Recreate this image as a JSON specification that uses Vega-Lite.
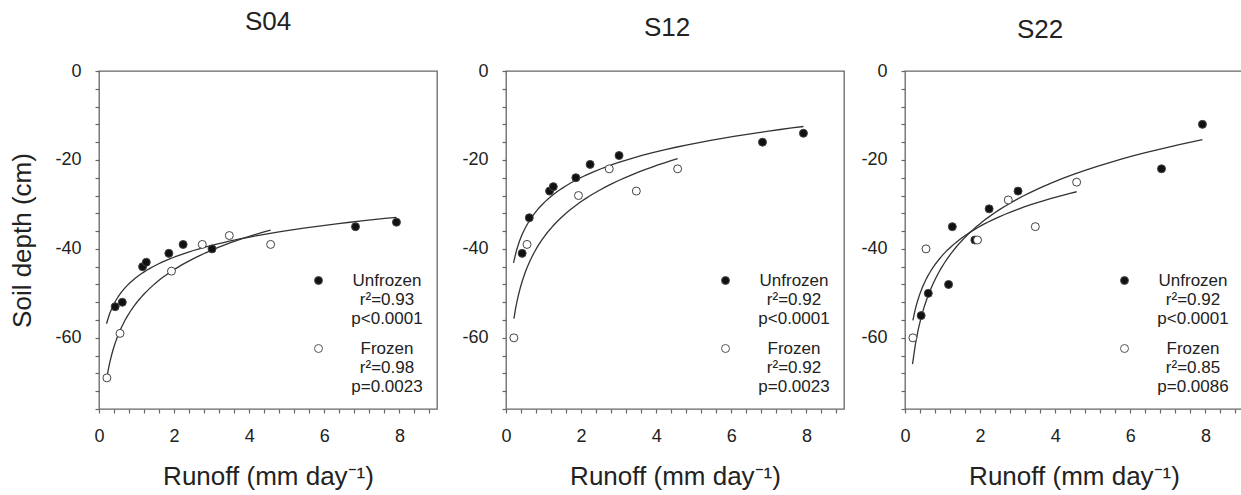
{
  "$schema": "https://vega.github.io/schema/vega-lite/v6.json",
  "background": "white",
  "padding": {"left": 9, "top": 8, "right": 0, "bottom": 0},
  "config": {
    "font": "Liberation Sans",
    "view": {"stroke": "#666", "strokeWidth": 1.3},
    "axis": {
      "domain": false, "grid": false, "tickColor": "#666", "tickSize": 4, "tickWidth": 1.2,
      "labelFontSize": 18, "labelColor": "#222", "labelOverlap": false, "labelFlush": false,
      "titleFontSize": 26, "titleFontWeight": "normal", "titleColor": "#222"
    },
    "axisX": {"labelPadding": 14, "titlePadding": 18},
    "axisY": {"labelPadding": 14, "titlePadding": 19},
    "title": {"fontSize": 26, "fontWeight": "normal", "color": "#222", "anchor": "middle", "frame": "group"},
    "legend": {
      "orient": "bottom-right", "offset": 14, "title": null,
      "labelFontSize": 17, "labelColor": "#222", "labelAlign": "center", "labelBaseline": "middle",
      "labelOffset": 60, "labelLimit": 300, "symbolType": "circle", "symbolSize": 64,
      "symbolStrokeColor": "#555", "symbolStrokeWidth": 1, "rowPadding": 12
    }
  },
  "data": {"values": [
    {"site": "S04", "condition": "Unfrozen", "runoff": 0.43, "depth": -53},
    {"site": "S04", "condition": "Unfrozen", "runoff": 0.62, "depth": -52},
    {"site": "S04", "condition": "Unfrozen", "runoff": 1.16, "depth": -44},
    {"site": "S04", "condition": "Unfrozen", "runoff": 1.26, "depth": -43},
    {"site": "S04", "condition": "Unfrozen", "runoff": 1.86, "depth": -41},
    {"site": "S04", "condition": "Unfrozen", "runoff": 2.24, "depth": -39},
    {"site": "S04", "condition": "Unfrozen", "runoff": 3.01, "depth": -40},
    {"site": "S04", "condition": "Unfrozen", "runoff": 6.83, "depth": -35},
    {"site": "S04", "condition": "Unfrozen", "runoff": 7.92, "depth": -34},
    {"site": "S04", "condition": "Frozen", "runoff": 0.21, "depth": -69},
    {"site": "S04", "condition": "Frozen", "runoff": 0.56, "depth": -59},
    {"site": "S04", "condition": "Frozen", "runoff": 1.93, "depth": -45},
    {"site": "S04", "condition": "Frozen", "runoff": 2.75, "depth": -39},
    {"site": "S04", "condition": "Frozen", "runoff": 3.47, "depth": -37},
    {"site": "S04", "condition": "Frozen", "runoff": 4.57, "depth": -39},
    {"site": "S12", "condition": "Unfrozen", "runoff": 0.43, "depth": -41},
    {"site": "S12", "condition": "Unfrozen", "runoff": 0.62, "depth": -33},
    {"site": "S12", "condition": "Unfrozen", "runoff": 1.16, "depth": -27},
    {"site": "S12", "condition": "Unfrozen", "runoff": 1.26, "depth": -26},
    {"site": "S12", "condition": "Unfrozen", "runoff": 1.86, "depth": -24},
    {"site": "S12", "condition": "Unfrozen", "runoff": 2.24, "depth": -21},
    {"site": "S12", "condition": "Unfrozen", "runoff": 3.01, "depth": -19},
    {"site": "S12", "condition": "Unfrozen", "runoff": 6.83, "depth": -16},
    {"site": "S12", "condition": "Unfrozen", "runoff": 7.92, "depth": -14},
    {"site": "S12", "condition": "Frozen", "runoff": 0.21, "depth": -60},
    {"site": "S12", "condition": "Frozen", "runoff": 0.56, "depth": -39},
    {"site": "S12", "condition": "Frozen", "runoff": 1.93, "depth": -28},
    {"site": "S12", "condition": "Frozen", "runoff": 2.75, "depth": -22},
    {"site": "S12", "condition": "Frozen", "runoff": 3.47, "depth": -27},
    {"site": "S12", "condition": "Frozen", "runoff": 4.57, "depth": -22},
    {"site": "S22", "condition": "Unfrozen", "runoff": 0.43, "depth": -55},
    {"site": "S22", "condition": "Unfrozen", "runoff": 0.62, "depth": -50},
    {"site": "S22", "condition": "Unfrozen", "runoff": 1.16, "depth": -48},
    {"site": "S22", "condition": "Unfrozen", "runoff": 1.26, "depth": -35},
    {"site": "S22", "condition": "Unfrozen", "runoff": 1.86, "depth": -38},
    {"site": "S22", "condition": "Unfrozen", "runoff": 2.24, "depth": -31},
    {"site": "S22", "condition": "Unfrozen", "runoff": 3.01, "depth": -27},
    {"site": "S22", "condition": "Unfrozen", "runoff": 6.83, "depth": -22},
    {"site": "S22", "condition": "Unfrozen", "runoff": 7.92, "depth": -12},
    {"site": "S22", "condition": "Frozen", "runoff": 0.21, "depth": -60},
    {"site": "S22", "condition": "Frozen", "runoff": 0.56, "depth": -40},
    {"site": "S22", "condition": "Frozen", "runoff": 1.93, "depth": -38},
    {"site": "S22", "condition": "Frozen", "runoff": 2.75, "depth": -29},
    {"site": "S22", "condition": "Frozen", "runoff": 3.47, "depth": -35},
    {"site": "S22", "condition": "Frozen", "runoff": 4.57, "depth": -25}
  ]},
  "spacing": 15,
  "resolve": {"scale": {"fill": "independent"}, "legend": {"fill": "independent"}},
  "hconcat": [
    {
      "title": {"text": "S04", "offset": 27},
      "width": 338, "height": 338,
      "transform": [{"filter": "datum.site === 'S04'"}],
      "layer": [
        {"transform": [{"filter": "datum.condition === 'Unfrozen'"}, {"regression": "depth", "on": "runoff", "method": "log", "extent": [0.2, 7.92]}],
         "mark": {"type": "line", "color": "#333", "strokeWidth": 1.3},
         "encoding": {"x": {"field": "runoff", "type": "quantitative"}, "y": {"field": "depth", "type": "quantitative"}}},
        {"transform": [{"filter": "datum.condition === 'Frozen'"}, {"regression": "depth", "on": "runoff", "method": "log"}],
         "mark": {"type": "line", "color": "#333", "strokeWidth": 1.3},
         "encoding": {"x": {"field": "runoff", "type": "quantitative"}, "y": {"field": "depth", "type": "quantitative"}}},
        {"mark": {"type": "point", "filled": true, "size": 64, "stroke": "#444", "strokeWidth": 1, "opacity": 1},
         "encoding": {
           "x": {"field": "runoff", "type": "quantitative", "scale": {"domain": [0, 9], "nice": false, "zero": false},
                 "axis": {"title": "Runoff (mm day⁻¹)", "tickCount": 100, "values": [0,0.4,0.8,1.2,1.6,2,2.4,2.8,3.2,3.6,4,4.4,4.8,5.2,5.6,6,6.4,6.8,7.2,7.6,8,8.4,8.8], "labelExpr": "datum.value % 2 === 0 ? '' + datum.value : ''"}},
           "y": {"field": "depth", "type": "quantitative", "scale": {"domain": [-76, 0], "nice": false, "zero": false},
                 "axis": {"title": "Soil depth (cm)", "tickCount": 100, "values": [0,-4,-8,-12,-16,-20,-24,-28,-32,-36,-40,-44,-48,-52,-56,-60,-64,-68,-72,-76], "labelExpr": "datum.value % 20 === 0 ? '' + datum.value : ''"}},
           "fill": {"field": "condition", "type": "nominal", "scale": {"domain": ["Unfrozen", "Frozen"], "range": ["#111111", "#ffffff"]},
                    "legend": {"labelExpr": "datum.label === 'Unfrozen' ? ['Unfrozen', 'r²=0.93', 'p<0.0001'] : ['Frozen', 'r²=0.98', 'p=0.0023']"}}
         }}
      ]
    },
    {
      "title": {"text": "S12", "offset": 21, "dx": -8},
      "width": 338, "height": 338,
      "transform": [{"filter": "datum.site === 'S12'"}],
      "layer": [
        {"transform": [{"filter": "datum.condition === 'Unfrozen'"}, {"regression": "depth", "on": "runoff", "method": "log", "extent": [0.2, 7.92]}],
         "mark": {"type": "line", "color": "#333", "strokeWidth": 1.3},
         "encoding": {"x": {"field": "runoff", "type": "quantitative"}, "y": {"field": "depth", "type": "quantitative"}}},
        {"transform": [{"filter": "datum.condition === 'Frozen'"}, {"regression": "depth", "on": "runoff", "method": "log"}],
         "mark": {"type": "line", "color": "#333", "strokeWidth": 1.3},
         "encoding": {"x": {"field": "runoff", "type": "quantitative"}, "y": {"field": "depth", "type": "quantitative"}}},
        {"mark": {"type": "point", "filled": true, "size": 64, "stroke": "#444", "strokeWidth": 1, "opacity": 1},
         "encoding": {
           "x": {"field": "runoff", "type": "quantitative", "scale": {"domain": [0, 9], "nice": false, "zero": false},
                 "axis": {"title": "Runoff (mm day⁻¹)", "tickCount": 100, "values": [0,0.4,0.8,1.2,1.6,2,2.4,2.8,3.2,3.6,4,4.4,4.8,5.2,5.6,6,6.4,6.8,7.2,7.6,8,8.4,8.8], "labelExpr": "datum.value % 2 === 0 ? '' + datum.value : ''"}},
           "y": {"field": "depth", "type": "quantitative", "scale": {"domain": [-76, 0], "nice": false, "zero": false},
                 "axis": {"title": null, "minExtent": 52, "tickCount": 100, "values": [0,-4,-8,-12,-16,-20,-24,-28,-32,-36,-40,-44,-48,-52,-56,-60,-64,-68,-72,-76], "labelExpr": "datum.value % 20 === 0 ? '' + datum.value : ''"}},
           "fill": {"field": "condition", "type": "nominal", "scale": {"domain": ["Unfrozen", "Frozen"], "range": ["#111111", "#ffffff"]},
                    "legend": {"labelExpr": "datum.label === 'Unfrozen' ? ['Unfrozen', 'r²=0.92', 'p<0.0001'] : ['Frozen', 'r²=0.92', 'p=0.0023']"}}
         }}
      ]
    },
    {
      "title": {"text": "S22", "offset": 19, "dx": -34},
      "width": 338, "height": 338,
      "transform": [{"filter": "datum.site === 'S22'"}],
      "layer": [
        {"transform": [{"filter": "datum.condition === 'Unfrozen'"}, {"regression": "depth", "on": "runoff", "method": "log", "extent": [0.2, 7.92]}],
         "mark": {"type": "line", "color": "#333", "strokeWidth": 1.3},
         "encoding": {"x": {"field": "runoff", "type": "quantitative"}, "y": {"field": "depth", "type": "quantitative"}}},
        {"transform": [{"filter": "datum.condition === 'Frozen'"}, {"regression": "depth", "on": "runoff", "method": "log"}],
         "mark": {"type": "line", "color": "#333", "strokeWidth": 1.3},
         "encoding": {"x": {"field": "runoff", "type": "quantitative"}, "y": {"field": "depth", "type": "quantitative"}}},
        {"mark": {"type": "point", "filled": true, "size": 64, "stroke": "#444", "strokeWidth": 1, "opacity": 1},
         "encoding": {
           "x": {"field": "runoff", "type": "quantitative", "scale": {"domain": [0, 9], "nice": false, "zero": false},
                 "axis": {"title": "Runoff (mm day⁻¹)", "tickCount": 100, "values": [0,0.4,0.8,1.2,1.6,2,2.4,2.8,3.2,3.6,4,4.4,4.8,5.2,5.6,6,6.4,6.8,7.2,7.6,8,8.4,8.8], "labelExpr": "datum.value % 2 === 0 ? '' + datum.value : ''"}},
           "y": {"field": "depth", "type": "quantitative", "scale": {"domain": [-76, 0], "nice": false, "zero": false},
                 "axis": {"title": null, "tickCount": 100, "values": [0,-4,-8,-12,-16,-20,-24,-28,-32,-36,-40,-44,-48,-52,-56,-60,-64,-68,-72,-76], "labelExpr": "datum.value % 20 === 0 ? '' + datum.value : ''"}},
           "fill": {"field": "condition", "type": "nominal", "scale": {"domain": ["Unfrozen", "Frozen"], "range": ["#111111", "#ffffff"]},
                    "legend": {"labelExpr": "datum.label === 'Unfrozen' ? ['Unfrozen', 'r²=0.92', 'p<0.0001'] : ['Frozen', 'r²=0.85', 'p=0.0086']"}}
         }}
      ]
    }
  ]
}
